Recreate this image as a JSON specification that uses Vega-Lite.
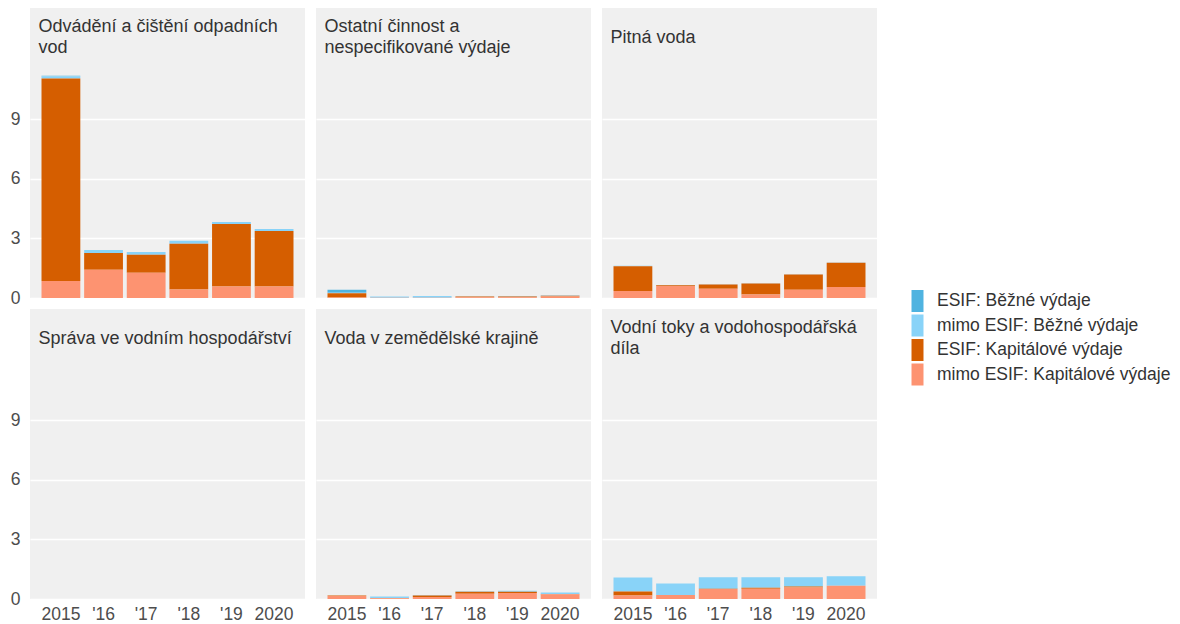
{
  "$schema": "https://vega.github.io/schema/vega-lite/v6.json",
  "padding": {"left": 10, "top": 7, "right": 0, "bottom": 0},
  "background": "#ffffff",
  "data": {"values": [
    {"sektor": "Odvádění a čištění odpadních\nvod", "rok": "2015", "ESIF: Běžné výdaje": 0.02, "mimo ESIF: Běžné výdaje": 0.12, "ESIF: Kapitálové výdaje": 10.2, "mimo ESIF: Kapitálové výdaje": 0.85},
    {"sektor": "Odvádění a čištění odpadních\nvod", "rok": "2016", "ESIF: Běžné výdaje": 0, "mimo ESIF: Běžné výdaje": 0.15, "ESIF: Kapitálové výdaje": 0.85, "mimo ESIF: Kapitálové výdaje": 1.42},
    {"sektor": "Odvádění a čištění odpadních\nvod", "rok": "2017", "ESIF: Běžné výdaje": 0, "mimo ESIF: Běžné výdaje": 0.14, "ESIF: Kapitálové výdaje": 0.91, "mimo ESIF: Kapitálové výdaje": 1.27},
    {"sektor": "Odvádění a čištění odpadních\nvod", "rok": "2018", "ESIF: Běžné výdaje": 0, "mimo ESIF: Běžné výdaje": 0.15, "ESIF: Kapitálové výdaje": 2.3, "mimo ESIF: Kapitálové výdaje": 0.43},
    {"sektor": "Odvádění a čištění odpadních\nvod", "rok": "2019", "ESIF: Běžné výdaje": 0, "mimo ESIF: Běžné výdaje": 0.1, "ESIF: Kapitálové výdaje": 3.15, "mimo ESIF: Kapitálové výdaje": 0.58},
    {"sektor": "Odvádění a čištění odpadních\nvod", "rok": "2020", "ESIF: Běžné výdaje": 0, "mimo ESIF: Běžné výdaje": 0.1, "ESIF: Kapitálové výdaje": 2.79, "mimo ESIF: Kapitálové výdaje": 0.58},
    {"sektor": "Ostatní činnost a\nnespecifikované výdaje", "rok": "2015", "ESIF: Běžné výdaje": 0.15, "mimo ESIF: Běžné výdaje": 0.03, "ESIF: Kapitálové výdaje": 0.22, "mimo ESIF: Kapitálové výdaje": 0.02},
    {"sektor": "Ostatní činnost a\nnespecifikované výdaje", "rok": "2016", "ESIF: Běžné výdaje": 0, "mimo ESIF: Běžné výdaje": 0.07, "ESIF: Kapitálové výdaje": 0, "mimo ESIF: Kapitálové výdaje": 0.01},
    {"sektor": "Ostatní činnost a\nnespecifikované výdaje", "rok": "2017", "ESIF: Běžné výdaje": 0, "mimo ESIF: Běžné výdaje": 0.09, "ESIF: Kapitálové výdaje": 0, "mimo ESIF: Kapitálové výdaje": 0.01},
    {"sektor": "Ostatní činnost a\nnespecifikované výdaje", "rok": "2018", "ESIF: Běžné výdaje": 0, "mimo ESIF: Běžné výdaje": 0.02, "ESIF: Kapitálové výdaje": 0.03, "mimo ESIF: Kapitálové výdaje": 0.04},
    {"sektor": "Ostatní činnost a\nnespecifikované výdaje", "rok": "2019", "ESIF: Běžné výdaje": 0, "mimo ESIF: Běžné výdaje": 0.03, "ESIF: Kapitálové výdaje": 0.03, "mimo ESIF: Kapitálové výdaje": 0.04},
    {"sektor": "Ostatní činnost a\nnespecifikované výdaje", "rok": "2020", "ESIF: Běžné výdaje": 0, "mimo ESIF: Běžné výdaje": 0.03, "ESIF: Kapitálové výdaje": 0.03, "mimo ESIF: Kapitálové výdaje": 0.08},
    {"sektor": "Pitná voda", "rok": "2015", "ESIF: Běžné výdaje": 0, "mimo ESIF: Běžné výdaje": 0.02, "ESIF: Kapitálové výdaje": 1.25, "mimo ESIF: Kapitálové výdaje": 0.35},
    {"sektor": "Pitná voda", "rok": "2016", "ESIF: Běžné výdaje": 0, "mimo ESIF: Běžné výdaje": 0.01, "ESIF: Kapitálové výdaje": 0.04, "mimo ESIF: Kapitálové výdaje": 0.6},
    {"sektor": "Pitná voda", "rok": "2017", "ESIF: Běžné výdaje": 0, "mimo ESIF: Běžné výdaje": 0.01, "ESIF: Kapitálové výdaje": 0.21, "mimo ESIF: Kapitálové výdaje": 0.47},
    {"sektor": "Pitná voda", "rok": "2018", "ESIF: Běžné výdaje": 0, "mimo ESIF: Běžné výdaje": 0.01, "ESIF: Kapitálové výdaje": 0.55, "mimo ESIF: Kapitálové výdaje": 0.18},
    {"sektor": "Pitná voda", "rok": "2019", "ESIF: Běžné výdaje": 0, "mimo ESIF: Běžné výdaje": 0.01, "ESIF: Kapitálové výdaje": 0.76, "mimo ESIF: Kapitálové výdaje": 0.42},
    {"sektor": "Pitná voda", "rok": "2020", "ESIF: Běžné výdaje": 0, "mimo ESIF: Běžné výdaje": 0.02, "ESIF: Kapitálové výdaje": 1.22, "mimo ESIF: Kapitálové výdaje": 0.55},
    {"sektor": "Správa ve vodním hospodářství", "rok": "2015", "ESIF: Běžné výdaje": 0, "mimo ESIF: Běžné výdaje": 0, "ESIF: Kapitálové výdaje": 0, "mimo ESIF: Kapitálové výdaje": 0},
    {"sektor": "Správa ve vodním hospodářství", "rok": "2016", "ESIF: Běžné výdaje": 0, "mimo ESIF: Běžné výdaje": 0, "ESIF: Kapitálové výdaje": 0, "mimo ESIF: Kapitálové výdaje": 0},
    {"sektor": "Správa ve vodním hospodářství", "rok": "2017", "ESIF: Běžné výdaje": 0, "mimo ESIF: Běžné výdaje": 0, "ESIF: Kapitálové výdaje": 0, "mimo ESIF: Kapitálové výdaje": 0},
    {"sektor": "Správa ve vodním hospodářství", "rok": "2018", "ESIF: Běžné výdaje": 0, "mimo ESIF: Běžné výdaje": 0, "ESIF: Kapitálové výdaje": 0, "mimo ESIF: Kapitálové výdaje": 0},
    {"sektor": "Správa ve vodním hospodářství", "rok": "2019", "ESIF: Běžné výdaje": 0, "mimo ESIF: Běžné výdaje": 0, "ESIF: Kapitálové výdaje": 0, "mimo ESIF: Kapitálové výdaje": 0},
    {"sektor": "Správa ve vodním hospodářství", "rok": "2020", "ESIF: Běžné výdaje": 0, "mimo ESIF: Běžné výdaje": 0, "ESIF: Kapitálové výdaje": 0, "mimo ESIF: Kapitálové výdaje": 0},
    {"sektor": "Voda v zemědělské krajině", "rok": "2015", "ESIF: Běžné výdaje": 0, "mimo ESIF: Běžné výdaje": 0.01, "ESIF: Kapitálové výdaje": 0.02, "mimo ESIF: Kapitálové výdaje": 0.15},
    {"sektor": "Voda v zemědělské krajině", "rok": "2016", "ESIF: Běžné výdaje": 0, "mimo ESIF: Běžné výdaje": 0.07, "ESIF: Kapitálové výdaje": 0.01, "mimo ESIF: Kapitálové výdaje": 0.04},
    {"sektor": "Voda v zemědělské krajině", "rok": "2017", "ESIF: Běžné výdaje": 0, "mimo ESIF: Běžné výdaje": 0.02, "ESIF: Kapitálové výdaje": 0.08, "mimo ESIF: Kapitálové výdaje": 0.1},
    {"sektor": "Voda v zemědělské krajině", "rok": "2018", "ESIF: Běžné výdaje": 0, "mimo ESIF: Běžné výdaje": 0.03, "ESIF: Kapitálové výdaje": 0.09, "mimo ESIF: Kapitálové výdaje": 0.27},
    {"sektor": "Voda v zemědělské krajině", "rok": "2019", "ESIF: Běžné výdaje": 0, "mimo ESIF: Běžné výdaje": 0.06, "ESIF: Kapitálové výdaje": 0.06, "mimo ESIF: Kapitálové výdaje": 0.3},
    {"sektor": "Voda v zemědělské krajině", "rok": "2020", "ESIF: Běžné výdaje": 0, "mimo ESIF: Běžné výdaje": 0.08, "ESIF: Kapitálové výdaje": 0.01, "mimo ESIF: Kapitálové výdaje": 0.24},
    {"sektor": "Vodní toky a vodohospodářská\ndíla", "rok": "2015", "ESIF: Běžné výdaje": 0, "mimo ESIF: Běžné výdaje": 0.7, "ESIF: Kapitálové výdaje": 0.2, "mimo ESIF: Kapitálové výdaje": 0.18},
    {"sektor": "Vodní toky a vodohospodářská\ndíla", "rok": "2016", "ESIF: Běžné výdaje": 0, "mimo ESIF: Běžné výdaje": 0.58, "ESIF: Kapitálové výdaje": 0, "mimo ESIF: Kapitálové výdaje": 0.2},
    {"sektor": "Vodní toky a vodohospodářská\ndíla", "rok": "2017", "ESIF: Běžné výdaje": 0, "mimo ESIF: Běžné výdaje": 0.58, "ESIF: Kapitálové výdaje": 0.02, "mimo ESIF: Kapitálové výdaje": 0.5},
    {"sektor": "Vodní toky a vodohospodářská\ndíla", "rok": "2018", "ESIF: Běžné výdaje": 0, "mimo ESIF: Běžné výdaje": 0.53, "ESIF: Kapitálové výdaje": 0.05, "mimo ESIF: Kapitálové výdaje": 0.52},
    {"sektor": "Vodní toky a vodohospodářská\ndíla", "rok": "2019", "ESIF: Běžné výdaje": 0, "mimo ESIF: Běžné výdaje": 0.47, "ESIF: Kapitálové výdaje": 0.05, "mimo ESIF: Kapitálové výdaje": 0.58},
    {"sektor": "Vodní toky a vodohospodářská\ndíla", "rok": "2020", "ESIF: Běžné výdaje": 0, "mimo ESIF: Běžné výdaje": 0.48, "ESIF: Kapitálové výdaje": 0, "mimo ESIF: Kapitálové výdaje": 0.67}
  ]},
  "transform": [
    {"fold": ["ESIF: Běžné výdaje", "mimo ESIF: Běžné výdaje", "ESIF: Kapitálové výdaje", "mimo ESIF: Kapitálové výdaje"], "as": ["typ", "hodnota"]},
    {"calculate": "indexof(['ESIF: Běžné výdaje', 'mimo ESIF: Běžné výdaje', 'ESIF: Kapitálové výdaje', 'mimo ESIF: Kapitálové výdaje'], datum.typ)", "as": "poradi"}
  ],
  "facet": {
    "field": "sektor",
    "type": "nominal",
    "sort": ["Odvádění a čištění odpadních\nvod", "Ostatní činnost a\nnespecifikované výdaje", "Pitná voda", "Správa ve vodním hospodářství", "Voda v zemědělské krajině", "Vodní toky a vodohospodářská\ndíla"],
    "title": null,
    "header": {"labels": false, "title": null, "labelPadding": 0, "labelFontSize": 0.01, "labelColor": "transparent", "labelExpr": "''"}
  },
  "columns": 3,
  "spacing": {"row": 10, "column": 11},
  "spec": {
    "width": 275,
    "height": 290,
    "layer": [
      {
        "mark": {"type": "bar"},
        "encoding": {
          "x": {
            "field": "rok", "type": "ordinal",
            "scale": {"paddingInner": 0.09, "paddingOuter": 0.27},
            "axis": {"title": null, "labelAngle": 0, "grid": false, "labelPadding": 6,
                     "labelExpr": "datum.value == '2015' || datum.value == '2020' ? datum.value : \"'\" + substring(datum.value, 2)"}
          },
          "y": {
            "field": "hodnota", "type": "quantitative", "stack": "zero",
            "scale": {"domain": [0, 14.6], "nice": false},
            "axis": {"title": null, "values": [0, 3, 6, 9], "grid": true, "labelPadding": 10}
          },
          "color": {
            "field": "typ", "type": "nominal",
            "scale": {
              "domain": ["ESIF: Běžné výdaje", "mimo ESIF: Běžné výdaje", "ESIF: Kapitálové výdaje", "mimo ESIF: Kapitálové výdaje"],
              "range": ["#4FB3E0", "#89D3F8", "#D55E00", "#FD9371"]
            },
            "legend": {
              "title": null, "orient": "none", "legendX": 876.5, "legendY": 282,
              "symbolType": "M-0.545,-1H0.545V1H-0.545Z", "symbolSize": 484, "symbolStrokeWidth": 0, "symbolOpacity": 1,
              "labelFontSize": 17.5, "labelColor": "#333333", "labelFont": "Liberation Sans", "labelOffset": 8.5,
              "rowPadding": 2.5, "padding": 0, "labelLimit": 400
            }
          },
          "order": {"field": "poradi", "sort": "descending"}
        }
      },
      {
        "transform": [{"filter": "datum.rok == '2015' && datum.typ == 'ESIF: Běžné výdaje' && indexof(datum.sektor, '\\n') < 0"}],
        "mark": {"type": "text", "align": "left", "baseline": "middle", "lineBreak": "\n", "fontSize": 18, "lineHeight": 21, "dx": -3, "dy": 30, "color": "#333333", "font": "Liberation Sans"},
        "encoding": {
          "x": {"field": "rok", "type": "ordinal", "bandPosition": 0},
          "y": {"datum": 14.6},
          "text": {"field": "sektor"}
        }
      },
      {
        "transform": [{"filter": "datum.rok == '2015' && datum.typ == 'ESIF: Běžné výdaje' && indexof(datum.sektor, '\\n') >= 0"}],
        "mark": {"type": "text", "align": "left", "baseline": "middle", "lineBreak": "\n", "fontSize": 18, "lineHeight": 21, "dx": -3, "dy": 19, "color": "#333333", "font": "Liberation Sans"},
        "encoding": {
          "x": {"field": "rok", "type": "ordinal", "bandPosition": 0},
          "y": {"datum": 14.6},
          "text": {"field": "sektor"}
        }
      }
    ]
  },
  "config": {
    "view": {"fill": "#F0F0F0", "stroke": null},
    "header": {"labels": false, "title": null, "labelPadding": 0},
    "headerFacet": {"labels": false, "labelPadding": 0},
    "axis": {"domain": false, "ticks": false, "tickSize": 0, "labelFont": "Liberation Sans", "labelFontSize": 17.5, "labelColor": "#4D4D4D", "gridColor": "#FFFFFF", "gridWidth": 1.5, "gridOpacity": 1}
  }
}
